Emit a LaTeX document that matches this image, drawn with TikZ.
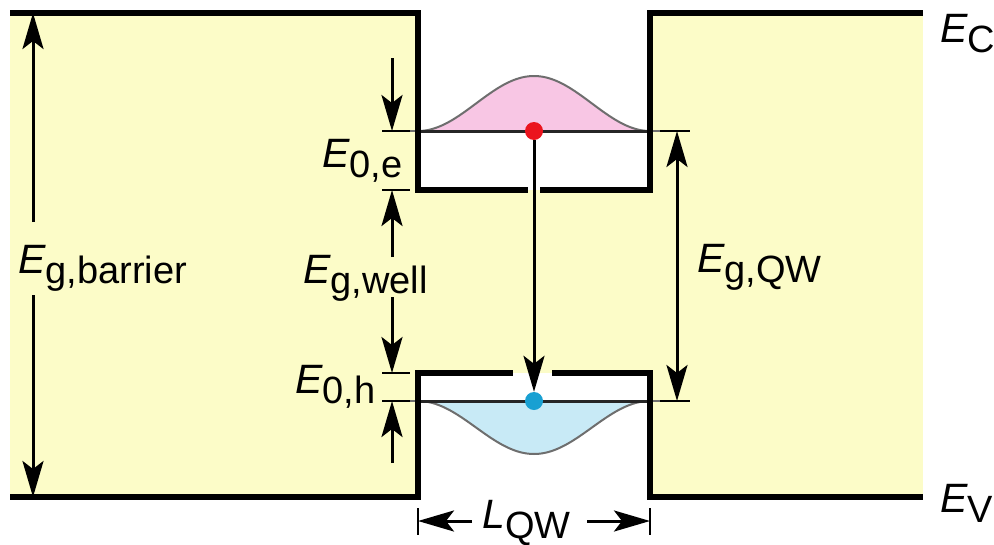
\documentclass[tikz,border=0pt]{standalone}
\usepackage{fontspec}
\setmainfont{Liberation Sans}
\usetikzlibrary{arrows.meta}
\definecolor{bgy}{RGB}{252,252,200}
\definecolor{pinkf}{RGB}{248,198,228}
\definecolor{bluef}{RGB}{200,234,246}
\definecolor{reddot}{RGB}{235,20,30}
\definecolor{bluedot}{RGB}{25,160,210}
\definecolor{wfgray}{RGB}{110,110,110}
\newcommand{\mylab}[2]{{\fontsize{41}{41}\selectfont\itshape #1}\raisebox{-10pt}{\fontsize{38}{38}\selectfont #2}}
\begin{document}
\begin{tikzpicture}[x=1pt,y=-1pt,
  band/.style={line width=5.5pt, line join=miter},
  dim/.style={line width=3pt},
  tip/.tip={Stealth[length=36pt,width=21pt,inset=8pt]},
  dimarrow/.style={dim, -tip},
  dimboth/.style={dim, tip-tip},
  tickmark/.style={line width=2.5pt},
  lbl/.style={anchor=base west, inner sep=0pt},
  level/.style={line width=3pt, draw=black!85},
  wf/.style={line width=2pt, draw=wfgray},
  dot/.style={circle, inner sep=0pt, minimum size=18pt}]
\useasboundingbox (0,0) rectangle (994,544);
% background fills
\fill[bgy] (10,13) rectangle (418,497);
\fill[bgy] (418,190) rectangle (650,373);
\fill[bgy] (650,13) rectangle (923,497);
% wavefunctions (t from -1 to 1 across the well)
\fill[pinkf] plot[domain=-1:1, samples=81, smooth] ({534+116*\x},{131-27.5*(1+cos(180*\x))}) -- cycle;
\draw[wf] plot[domain=-1:1, samples=81, smooth] ({534+116*\x},{131-27.5*(1+cos(180*\x))});
\fill[bluef] plot[domain=-1:1, samples=81, smooth] ({534+116*\x},{401+26.5*(1+cos(180*\x))}) -- cycle;
\draw[wf] plot[domain=-1:1, samples=81, smooth] ({534+116*\x},{401+26.5*(1+cos(180*\x))});
% coordinates
\coordinate (cbL0) at (10,13);
\coordinate (cbL1) at (418,13);
\coordinate (cbW0) at (418,190);
\coordinate (cbG0) at (528,190);
\coordinate (cbG1) at (540,190);
\coordinate (cbW1) at (650,190);
\coordinate (cbR0) at (650,13);
\coordinate (cbR1) at (923,13);
\coordinate (vbL0) at (10,497);
\coordinate (vbL1) at (418,497);
\coordinate (vbW0) at (418,373);
\coordinate (vbG0) at (513,373);
\coordinate (vbG1) at (552,373);
\coordinate (vbW1) at (650,373);
\coordinate (vbR0) at (650,497);
\coordinate (vbR1) at (923,497);
\coordinate (e0a) at (418,131);
\coordinate (e0b) at (650,131);
\coordinate (h0a) at (418,401);
\coordinate (h0b) at (650,401);
% tails
\draw[wf] (408,131) -- (e0a);
\draw[wf] (e0b) -- (662,131);
\draw[wf] (408,401) -- (h0a);
\draw[wf] (h0b) -- (662,401);
% levels
\draw[level] (e0a) -- (e0b);
\draw[level] (h0a) -- (h0b);
% bands
\draw[band] (cbL0) -- (cbL1) -- (cbW0) -- (cbG0);
\draw[band] (cbG1) -- (cbW1) -- (cbR0) -- (cbR1);
\draw[band] (vbL0) -- (vbL1) -- (vbW0) -- (vbG0);
\draw[band] (vbG1) -- (vbW1) -- (vbR0) -- (vbR1);
% electron / hole and transition
\node[dot, fill=reddot] (el) at (534,131) {};
\node[dot, fill=bluedot] (ho) at (534,401) {};
\draw[dimarrow] (el) -- (ho);
% E_g,barrier
\coordinate (gbT) at (33,13);
\coordinate (gbB) at (33,497);
\coordinate (gbT1) at (33,222);
\coordinate (gbB1) at (33,295);
\draw[dimarrow] (gbT1) -- (gbT);
\draw[dimarrow] (gbB1) -- (gbB);
\node[lbl] (lbar) at (18,273) {\mylab{E}{g,barrier}};
% left column ticks
\foreach \n/\y in {t1/131,t2/190,t3/373,t4/401}{
  \coordinate (\n a) at (382,\y);
  \coordinate (\n b) at (410,\y);
  \coordinate (\n c) at (392,\y);
  \draw[tickmark] (\n a) -- (\n b);
}
\coordinate (s1) at (392,58);
\coordinate (s2) at (392,257);
\coordinate (s3) at (392,297);
\coordinate (s4) at (392,463);
\draw[dimarrow] (s1) -- (t1c);
\draw[dimarrow] (s2) -- (t2c);
\draw[dimarrow] (s3) -- (t3c);
\draw[dimarrow] (s4) -- (t4c);
\node[lbl] (le0) at (322,167) {\mylab{E}{0,e}};
\node[lbl] (lwell) at (303,283) {\mylab{E}{g,well}};
\node[lbl] (lh0) at (295,393) {\mylab{E}{0,h}};
% E_g,QW
\coordinate (q1a) at (660,131);
\coordinate (q1b) at (690,131);
\coordinate (q2a) at (660,401);
\coordinate (q2b) at (690,401);
\coordinate (q1c) at (677,131);
\coordinate (q2c) at (677,401);
\draw[tickmark] (q1a) -- (q1b);
\draw[tickmark] (q2a) -- (q2b);
\draw[dimboth] (q1c) -- (q2c);
\node[lbl] (lqw) at (697,272) {\mylab{E}{g,QW}};
% E_C, E_V
\node[lbl] (lec) at (940,42) {\mylab{E}{C}};
\node[lbl] (lev) at (940,512) {\mylab{E}{V}};
% L_QW
\coordinate (la0) at (418,508);
\coordinate (la1) at (418,535);
\coordinate (lb0) at (650,508);
\coordinate (lb1) at (650,535);
\coordinate (lat) at (418,521);
\coordinate (las) at (472,521);
\coordinate (lbt) at (650,521);
\coordinate (lbs) at (587,521);
\draw[tickmark] (la0) -- (la1);
\draw[tickmark] (lb0) -- (lb1);
\draw[dimarrow] (las) -- (lat);
\draw[dimarrow] (lbs) -- (lbt);
\node[lbl] (llqw) at (482,528) {\mylab{L}{QW}};
\end{tikzpicture}
\end{document}
